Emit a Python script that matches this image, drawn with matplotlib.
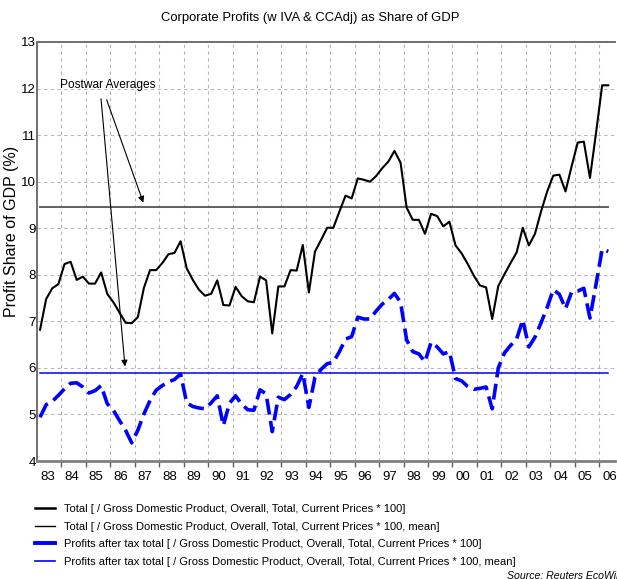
import numpy as np
import matplotlib
matplotlib.use("Agg")
import matplotlib.pyplot as plt
from matplotlib.lines import Line2D
from matplotlib.ticker import MultipleLocator, FixedLocator, FixedFormatter

# quarterly shares of GDP (%), 1983Q1 .. 2006Q2
total = [
    6.82, 7.48, 7.71, 7.80,   8.23, 8.28, 7.89, 7.96,   7.81, 7.81, 8.05, 7.59,
    7.41, 7.19, 6.97, 6.96,   7.09, 7.72, 8.10, 8.10,   8.25, 8.44, 8.47, 8.72,
    8.14, 7.89, 7.68, 7.55,   7.59, 7.88, 7.35, 7.34,   7.74, 7.54, 7.43, 7.41,
    7.96, 7.88, 6.74, 7.75,   7.75, 8.10, 8.09, 8.64,   7.62, 8.50, 8.75, 9.01,
    9.01, 9.36, 9.70, 9.64,   10.07, 10.04, 10.00, 10.12, 10.29, 10.43, 10.66, 10.41,
    9.44, 9.18, 9.18, 8.88,   9.31, 9.26, 9.04, 9.14,   8.63, 8.46, 8.23, 7.98,
    7.77, 7.73, 7.05, 7.76,   8.01, 8.25, 8.48, 9.01,   8.63, 8.88, 9.36, 9.79,
    10.13, 10.15, 9.79, 10.33, 10.84, 10.86, 10.08, 11.05, 12.07, 12.07,
]
after_tax = [
    4.94, 5.21, 5.28, 5.41,   5.55, 5.67, 5.68, 5.59,   5.46, 5.51, 5.62, 5.23,
    5.09, 4.87, 4.66, 4.39,   4.66, 5.01, 5.30, 5.52,   5.62, 5.70, 5.75, 5.87,
    5.25, 5.17, 5.14, 5.12,   5.25, 5.40, 4.76, 5.24,   5.40, 5.22, 5.10, 5.09,
    5.53, 5.44, 4.63, 5.37,   5.32, 5.43, 5.60, 5.88,   5.15, 5.80, 5.97, 6.09,
    6.12, 6.35, 6.62, 6.67,   7.09, 7.05, 7.05, 7.22,   7.37, 7.47, 7.60, 7.41,
    6.60, 6.35, 6.30, 6.13,   6.55, 6.45, 6.30, 6.35,   5.77, 5.72, 5.60, 5.54,
    5.56, 5.59, 5.12, 6.00,   6.32, 6.48, 6.62, 7.03,   6.45, 6.66, 6.97, 7.30,
    7.68, 7.58, 7.27, 7.63,   7.65, 7.71, 7.07, 7.80,   8.55, 8.50,
]
total_mean = 9.45
after_tax_mean = 5.89
years = list(range(1983, 2007))
year_labels = [f"{y % 100:02d}" for y in years]
legend_labels = [
    "Total [ / Gross Domestic Product, Overall, Total, Current Prices * 100]",
    "Total [ / Gross Domestic Product, Overall, Total, Current Prices * 100, mean]",
    "Profits after tax total [ / Gross Domestic Product, Overall, Total, Current Prices * 100]",
    "Profits after tax total [ / Gross Domestic Product, Overall, Total, Current Prices * 100, mean]",
]

plt.rcParams["font.family"] = ["Liberation Sans", "DejaVu Sans"]

# plot quarters at mid-quarter
t = 1983 + 0.125 + 0.25 * np.arange(len(total))

fig = plt.figure(figsize=(6.17, 5.79), dpi=100)
ax = fig.add_axes([37 / 617, 1 - 461 / 579, 578 / 617, 419 / 579])

ax.plot(t, total, color="black", lw=1.5, zorder=4)
ax.plot([t[0], t[-1]], [total_mean] * 2, color="#606060", lw=1.4, zorder=3)
ax.plot(t, after_tax, color="#0000ff", lw=2.6, dashes=[4.4, 1.8], zorder=4)
ax.plot([t[0], t[-1]], [after_tax_mean] * 2, color="#0000ff", lw=1.1, zorder=3)

ax.set_xlim(1983.0, 2006.65)
ax.set_ylim(4, 13)
ax.yaxis.set_major_locator(MultipleLocator(1))
ax.tick_params(axis="y", labelsize=9.6, length=0, pad=1)
ax.xaxis.set_major_locator(FixedLocator(years[1:]))
ax.xaxis.set_major_formatter(FixedFormatter([""] * len(years[1:])))
ax.xaxis.set_minor_locator(FixedLocator([y + 0.42 for y in years]))
ax.xaxis.set_minor_formatter(FixedFormatter(year_labels))
ax.tick_params(axis="x", which="major", length=4, color="#606060", width=1)
ax.tick_params(axis="x", which="minor", length=0, labelsize=9.5, pad=7)
ax.grid(True, which="major", color="#b8b8b8", ls=(0, (3, 3)), lw=0.8)
ax.set_axisbelow(True)

for s in ["top", "left"]:
    ax.spines[s].set_color("#707070")
    ax.spines[s].set_linewidth(1.4)
ax.spines["bottom"].set_color("#808080")
ax.spines["bottom"].set_linewidth(2)
ax.spines["right"].set_visible(False)

ax.set_ylabel("Profit Share of GDP (%)", fontsize=11.5)
ax.yaxis.set_label_coords(-0.031, 0.547)
fig.text(310 / 617, 1 - 18 / 579, "Corporate Profits (w IVA & CCAdj) as Share of GDP",
         ha="center", va="center", fontsize=9.4)

# annotation arrows to the two averages
ax.text(1983.94, 12.08, "Postwar Averages", fontsize=8.6, va="center", ha="left")
arrow = dict(arrowstyle="-|>", color="black", lw=0.8, mutation_scale=9, shrinkA=0, shrinkB=0)
ax.annotate("", xy=(1986.60, 6.03), xytext=(1985.62, 11.78), arrowprops=arrow)
ax.annotate("", xy=(1987.35, 9.55), xytext=(1985.85, 11.76), arrowprops=arrow)

handles = [
    Line2D([], [], color="black", lw=1.8),
    Line2D([], [], color="black", lw=1.0),
    Line2D([], [], color="#0000ff", lw=2.8),
    Line2D([], [], color="#0000ff", lw=1.2),
]
fig.legend(handles, legend_labels, loc="upper left", bbox_to_anchor=(35 / 617, 1 - 504 / 579),
           frameon=False, fontsize=8.0, handlelength=1.8, handletextpad=0.85,
           labelspacing=0.68, borderpad=0, borderaxespad=0)
fig.text(507 / 617, 1 - 576 / 579, "Source: Reuters EcoWin", fontsize=7.6,
         style="italic", ha="left", va="center")

fig.savefig("out.png", dpi=100)
